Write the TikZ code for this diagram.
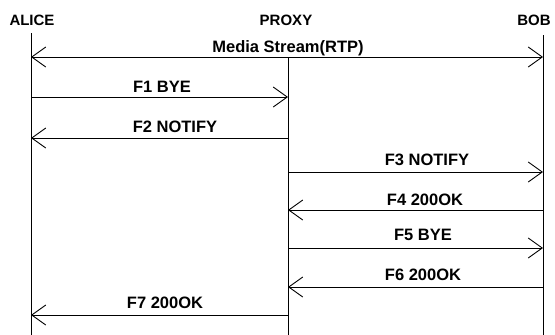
\documentclass[tikz,border=0pt]{standalone}
\usepackage{fontspec}
\setmainfont{Liberation Sans}
\usetikzlibrary{arrows.meta}
\begin{document}
\begin{tikzpicture}[x=1pt,y=-1pt,
  life/.style={line width=1pt,black},
  msg/.style={line width=0.9pt,-{Straight Barb[length=14pt,width=20pt,line width=0.9pt]}},
  msgboth/.style={line width=0.9pt,{Straight Barb[length=14pt,width=20pt,line width=0.9pt]}-{Straight Barb[length=14pt,width=20pt,line width=0.9pt]}},
  hdr/.style={font=\fontsize{15}{15}\selectfont\bfseries,inner sep=0pt,anchor=base},
  lbl/.style={font=\fontsize{16.5}{16.5}\selectfont\bfseries,inner sep=0pt,anchor=base}]
\useasboundingbox (0,0) rectangle (555,335);
% lifeline ends
\coordinate (aTop) at (31,33);
\coordinate (aBot) at (31,335);
\coordinate (pTop) at (288,57);
\coordinate (pBot) at (288,335);
\coordinate (bTop) at (543,35);
\coordinate (bBot) at (543,335);
\draw[life] (aTop) -- (aBot);
\draw[life] (pTop) -- (pBot);
\draw[life] (bTop) -- (bBot);
% headers
\node[hdr] (alice) at (32,25) {ALICE};
\node[hdr] (proxy) at (286,25) {PROXY};
\node[hdr] (bob) at (534,25) {BOB};
% message end points
\foreach \n/\y in {0/57,1/97,2/138,3/172,4/210,5/248,6/287,7/315}{
  \coordinate (a\n) at (31,\y);
  \coordinate (p\n) at (288,\y);
  \coordinate (b\n) at (543,\y);
}
\draw[msgboth] (a0) -- (b0);
\node[lbl] (m0) at (288,52) {Media Stream(RTP)};
\draw[msg] (a1) -- (p1);
\node[lbl] (m1) at (162,92) {F1 BYE};
\draw[msg] (p2) -- (a2);
\node[lbl] (m2) at (175,132) {F2 NOTIFY};
\draw[msg] (p3) -- (b3);
\node[lbl] (m3) at (427,165) {F3 NOTIFY};
\draw[msg] (b4) -- (p4);
\node[lbl] (m4) at (425,205) {F4 200OK};
\draw[msg] (p5) -- (b5);
\node[lbl] (m5) at (423,240) {F5 BYE};
\draw[msg] (b6) -- (p6);
\node[lbl] (m6) at (423,280) {F6 200OK};
\draw[msg] (p7) -- (a7);
\node[lbl] (m7) at (165,308) {F7 200OK};
\end{tikzpicture}
\end{document}
